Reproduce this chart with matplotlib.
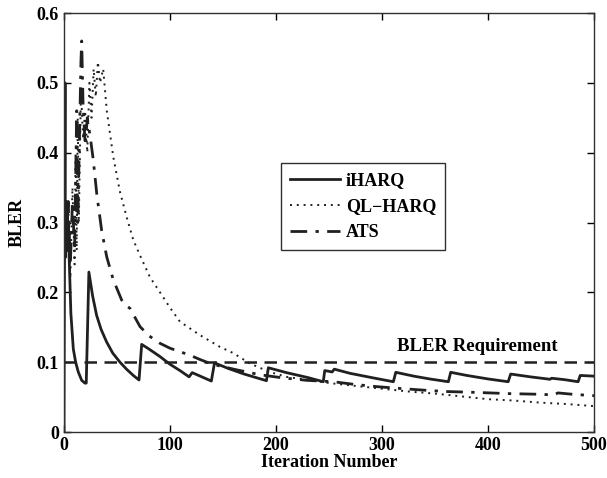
import matplotlib
matplotlib.use("Agg")
import matplotlib.pyplot as plt

plt.rcParams['font.family'] = ['Liberation Serif', 'DejaVu Serif']
plt.rcParams['font.weight'] = 'bold'

# iHARQ (solid), points
iharq_x = [0, 1, 1.2, 1.6, 2.0, 2.4, 2.8, 3.2, 3.6, 4.0, 4.7, 6.5, 8.8, 11, 13.5, 16.7, 19.8, 21,
           23.5, 27, 30.8, 35, 40.2, 46, 52.8, 59, 65.4, 70.8,
           73.3, 80, 90.6, 100, 109.4, 118, 121, 130, 139,
           142, 155, 170, 191, 192.8, 210, 230, 244.6, 246, 253, 255, 270, 290, 310.7,
           313, 330, 345, 362.6, 364.8, 380, 400, 419, 421.4, 440, 458.5, 460, 472, 485, 487, 500]
iharq_y = [0.0, 0.50, 0.25, 0.33, 0.26, 0.33, 0.27, 0.32, 0.26, 0.30, 0.26, 0.17, 0.119, 0.10, 0.086, 0.074, 0.070, 0.070,
           0.229, 0.195, 0.167, 0.147, 0.129, 0.113, 0.100, 0.090, 0.081, 0.0745,
           0.1255, 0.119, 0.108, 0.097, 0.088, 0.079, 0.085, 0.079, 0.073,
           0.099, 0.091, 0.083, 0.0735, 0.092, 0.085, 0.078, 0.072, 0.088, 0.086, 0.090, 0.084, 0.078, 0.072,
           0.0855, 0.080, 0.076, 0.072, 0.0855, 0.081, 0.076, 0.072, 0.083, 0.079, 0.0755, 0.077, 0.075, 0.072, 0.081, 0.080]

# QL-HARQ (dotted)
ql_x = [2, 4, 6, 8, 10, 11, 12, 13, 14, 16, 18, 20, 22, 24, 26, 28, 30, 32, 34,
        37, 40.3, 46.5, 52.8, 59.1, 65.4, 71.7, 81, 90.6, 100, 109.4, 128, 147, 159.7,
        175.5, 194, 210, 241.5, 251, 275, 300, 325, 350, 375, 400, 425, 450, 475, 500]
ql_y = [0.25, 0.33, 0.22, 0.35, 0.24, 0.40, 0.26, 0.45, 0.30, 0.49, 0.42, 0.46, 0.40, 0.50, 0.45, 0.52, 0.48, 0.53, 0.50,
        0.52, 0.461, 0.394, 0.344, 0.308, 0.275, 0.253, 0.222, 0.200, 0.178, 0.158, 0.139, 0.122, 0.113,
        0.098, 0.086, 0.079, 0.072, 0.070, 0.066, 0.062, 0.058, 0.055, 0.051, 0.047, 0.045, 0.042, 0.040, 0.037]

# ATS (dash-dot)
ats_x = [2, 4, 6, 8, 10, 12, 13, 15, 16, 16.7, 18, 20, 22, 25, 27.6, 31, 35.5, 40.3, 46.5,
         54.4, 58, 62.3, 71.7, 80, 90.6, 100, 109.4, 118.9, 128, 140, 163, 185, 204, 229,
         254, 275, 295, 320, 339, 360, 383, 420, 450, 462, 466, 480, 500]
ats_y = [0.27, 0.33, 0.24, 0.33, 0.26, 0.46, 0.30, 0.45, 0.53, 0.56, 0.47, 0.41, 0.45, 0.42, 0.39, 0.34, 0.289, 0.251, 0.218,
         0.189, 0.182, 0.177, 0.151, 0.138, 0.127, 0.120, 0.115, 0.110, 0.104, 0.097, 0.089, 0.082, 0.078, 0.074,
         0.072, 0.068, 0.065, 0.062, 0.060, 0.058, 0.057, 0.055, 0.054, 0.053, 0.056, 0.054, 0.052]

bler_req = 0.1

fig = plt.figure(figsize=(6.07, 4.78), dpi=100)
ax = fig.add_axes([0.1054, 0.0962, 0.8732, 0.8766])

ax.plot([0, 500], [bler_req, bler_req], color='#202020', linestyle=(0, (5, 3)), linewidth=1.8)
l1, = ax.plot(iharq_x, iharq_y, color='#202020', linestyle='-', linewidth=2.0, label='iHARQ')
l2, = ax.plot(ql_x, ql_y, color='#202020', linestyle=(0, (1, 2.5)), linewidth=1.4, label='QL\u2212HARQ')
l3, = ax.plot(ats_x, ats_y, color='#202020', linestyle=(0, (6, 3, 1.2, 3)), linewidth=2.0, label='ATS')

ax.text(390, 0.122, 'BLER Requirement', ha='center', va='center', fontsize=13.5, fontweight='bold')

ax.set_xlim(0, 500)
ax.set_ylim(0, 0.6)
ax.set_xticks([0, 100, 200, 300, 400, 500])
ax.set_yticks([0, 0.1, 0.2, 0.3, 0.4, 0.5, 0.6])
ax.set_yticklabels(['0', '0.1', '0.2', '0.3', '0.4', '0.5', '0.6'])
ax.tick_params(direction='in', top=True, right=True, length=5, labelsize=13, width=1)
for lab in ax.get_xticklabels() + ax.get_yticklabels():
    lab.set_fontweight('bold')
for s in ax.spines.values():
    s.set_linewidth(1.0)
    s.set_color('#303030')

ax.set_xlabel('Iteration Number', fontsize=13, fontweight='bold', labelpad=0)
ax.set_ylabel('BLER', fontsize=13, fontweight='bold', labelpad=8)

leg = ax.legend(handles=[l1, l2, l3], loc='upper left', bbox_to_anchor=(0.409, 0.642),
                fancybox=False, framealpha=1, edgecolor='#303030', fontsize=13,
                handlelength=2.8, handletextpad=0.3, borderpad=0.5, labelspacing=0.5,
                borderaxespad=0)
leg.get_frame().set_linewidth(1.0)
for t in leg.get_texts():
    t.set_fontweight('bold')

fig.savefig('out.png', dpi=100)
